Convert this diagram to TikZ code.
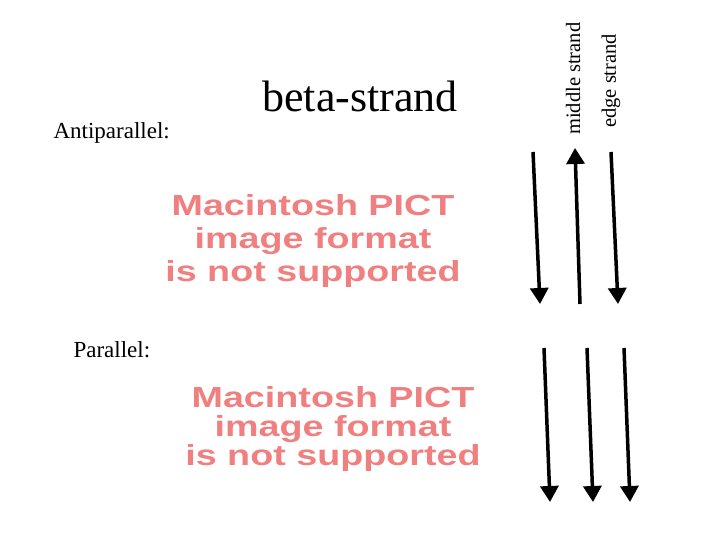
\documentclass[tikz,border=0pt]{standalone}
\usepackage{fontspec}
\setmainfont{Liberation Serif}
\newfontfamily\pictfont{Liberation Sans}
\usetikzlibrary{arrows.meta}
\definecolor{pict}{RGB}{240,128,128}
\newcommand{\pictbox}[1]{\scalebox{1.3}[1]{\begin{tabular}{@{}c@{}}#1\end{tabular}}}
\begin{document}
\begin{tikzpicture}[x=1pt,y=-1pt,
  strand/.style={line width=3.5pt,-{Triangle[length=16pt,width=18pt]}},
  picttext/.style={font=\pictfont\bfseries\fontsize{29}{31}\selectfont,text=pict,inner sep=0pt},
  lbl/.style={font=\fontsize{23}{26}\selectfont,anchor=west},
  rot/.style={font=\fontsize{20.5}{23}\selectfont,anchor=south,inner sep=0pt}]
\useasboundingbox (0,0) rectangle (720,540);
\node[font=\fontsize{44}{48}\selectfont] (title) at (360,96) {beta-strand};
\node[lbl] (anti) at (50,133) {Antiparallel:};
\node[lbl] (para) at (70,350) {Parallel:};
\node[rot] (mid) at (573,135) {\rotatebox{90}{middle strand}};
\node[rot] (edge) at (611,128) {\rotatebox{90}{edge strand}};
\node[picttext] (p1) at (313,242) {\pictbox{Macintosh PICT\\[2pt]image format\\[2pt]is not supported}};
\node[picttext] (p2) at (333,430) {\pictbox{Macintosh PICT\\[-2pt]image format\\[-2pt]is not supported}};
\coordinate (a1s) at (533,152); \coordinate (a1e) at (540,304);
\coordinate (a2s) at (580,304); \coordinate (a2e) at (575,148);
\coordinate (a3s) at (611,152); \coordinate (a3e) at (618,304);
\coordinate (b1s) at (544,348); \coordinate (b1e) at (550,502);
\coordinate (b2s) at (587,348); \coordinate (b2e) at (593,502);
\coordinate (b3s) at (624,348); \coordinate (b3e) at (630,502);
\draw[strand] (a1s) -- (a1e);
\draw[strand] (a2s) -- (a2e);
\draw[strand] (a3s) -- (a3e);
\draw[strand] (b1s) -- (b1e);
\draw[strand] (b2s) -- (b2e);
\draw[strand] (b3s) -- (b3e);
\end{tikzpicture}
\end{document}
